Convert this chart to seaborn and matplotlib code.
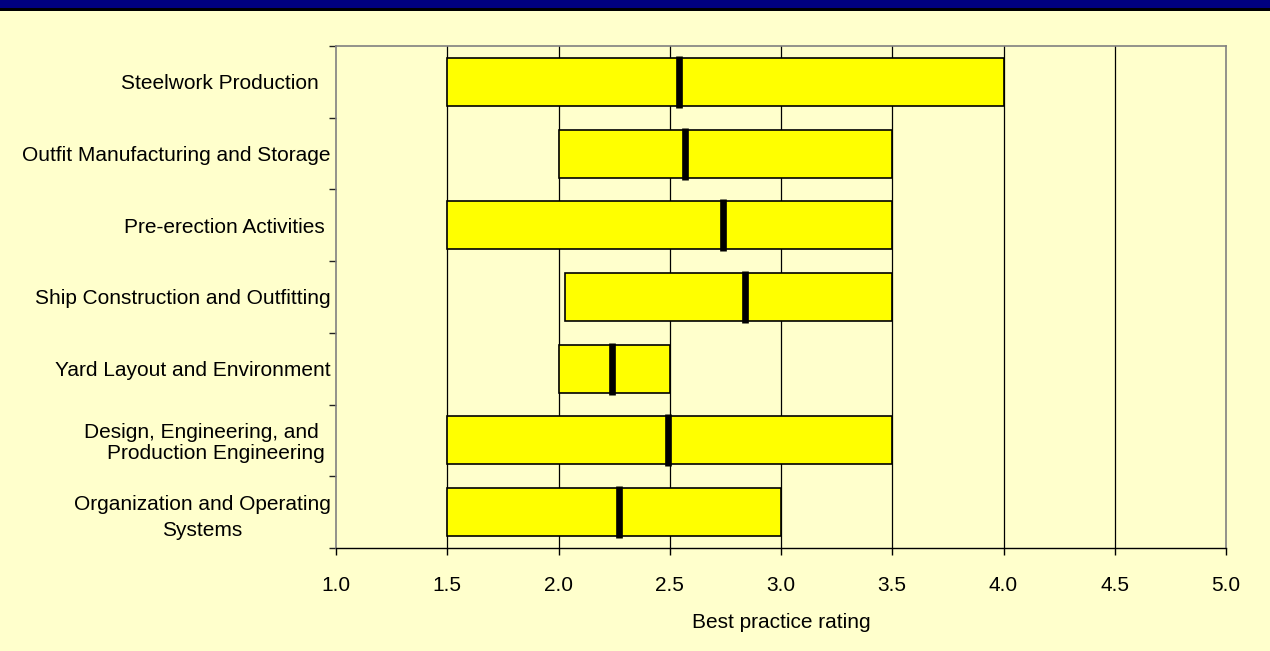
import matplotlib
matplotlib.use("Agg")
import matplotlib.pyplot as plt
from matplotlib.patches import Rectangle
import numpy as np
import pandas as pd
import seaborn as sns

# Ratings per shipyard area: lowest, median and highest best-practice score
categories = [
    "Steelwork Production  ",
    "Outfit Manufacturing and Storage",
    "Pre-erection Activities ",
    "Ship Construction and Outfitting",
    "Yard Layout and Environment",
    "Design, Engineering, and  \nProduction Engineering ",
    "Organization and Operating\nSystems",
]
low_values = [1.5, 2.0, 1.5, 2.03, 2.0, 1.5, 1.5]
median_values = [2.54, 2.57, 2.74, 2.84, 2.24, 2.49, 2.27]
high_values = [4.0, 3.5, 3.5, 3.5, 2.5, 3.5, 3.0]
x_ticks = [1.0, 1.5, 2.0, 2.5, 3.0, 3.5, 4.0, 4.5, 5.0]
x_tick_labels = ["1.0", "1.5", "2.0", "2.5", "3.0", "3.5", "4.0", "4.5", "5.0"]

BG = "#FFFFCC"
FS = 15
sns.set_theme(style="white")
plt.rcParams["font.family"] = ["Liberation Sans", "DejaVu Sans"]

df = pd.DataFrame({
    "area": categories,
    "low": low_values,
    "median": median_values,
    "high": high_values,
})
df["span"] = df["high"] - df["low"]

fig = plt.figure(figsize=(12.7, 6.51), dpi=100, facecolor=BG)
ax = fig.add_axes([336 / 1270, 1 - 548 / 651, 890 / 1270, 502 / 651])
ax.set_facecolor(BG)

# vertical gridlines behind the bars
for xv in x_ticks[1:-1]:
    ax.axvline(xv, color="black", lw=0.9, zorder=0)

# floating range bars (low -> high)
sns.barplot(data=df, x="span", y="area", order=categories, left=df["low"].values,
            color="#FFFF00", saturation=1, edgecolor="black", linewidth=1.2,
            width=0.67, orient="h", ax=ax, zorder=2)

# median markers
sns.scatterplot(data=df, x="median", y="area", marker="|", s=37 ** 2,
                color="black", linewidth=4.8, ax=ax, zorder=3, legend=False)

ax.set_xlim(1.0, 5.0)
ax.set_ylim(len(categories) - 0.5, -0.5)

ax.set_xticks(x_ticks)
ax.set_xticklabels(x_tick_labels)
ax.tick_params(axis="x", length=5, width=1, color="black", pad=15.5, bottom=True,
               labelsize=FS, labelcolor="black")

# tick marks at row boundaries, category labels at row centres
ax.set_yticks(np.arange(len(categories) + 1) - 0.5)
ax.set_yticklabels([])
ax.tick_params(axis="y", which="major", length=5, width=1, color="#222222", left=True)
ax.set_yticks(np.arange(len(categories)), minor=True)
ax.set_yticklabels(categories, minor=True)
ax.tick_params(axis="y", which="minor", length=0, pad=4, labelsize=FS,
               labelcolor="black")
label_style = {
    categories[5]: ("right", 1.1),
    categories[6]: ("center", 1.45),
}
for tick in ax.yaxis.get_minor_ticks():
    lab = tick.label1
    align, spacing = label_style.get(lab.get_text(), ("center", 1.1))
    lab.set_horizontalalignment("right")
    lab.set_multialignment(align)
    lab.set_linespacing(spacing)

ax.set_xlabel("Best practice rating", fontsize=FS, labelpad=12.5, color="black")
ax.set_ylabel("")

for side in ["left", "top", "right"]:
    ax.spines[side].set_color("#808080")
    ax.spines[side].set_linewidth(1.2)
ax.spines["bottom"].set_color("black")
ax.spines["bottom"].set_linewidth(1)

# navy title band across the top edge
fig.patches.append(Rectangle((0, 1 - 8 / 651), 1, 8 / 651, transform=fig.transFigure,
                             facecolor="#000080", edgecolor="none", zorder=5))
fig.patches.append(Rectangle((0, 1 - 11 / 651), 1, 3 / 651, transform=fig.transFigure,
                             facecolor="black", edgecolor="none", zorder=5))

fig.savefig("out.png", dpi=100, facecolor=BG)
